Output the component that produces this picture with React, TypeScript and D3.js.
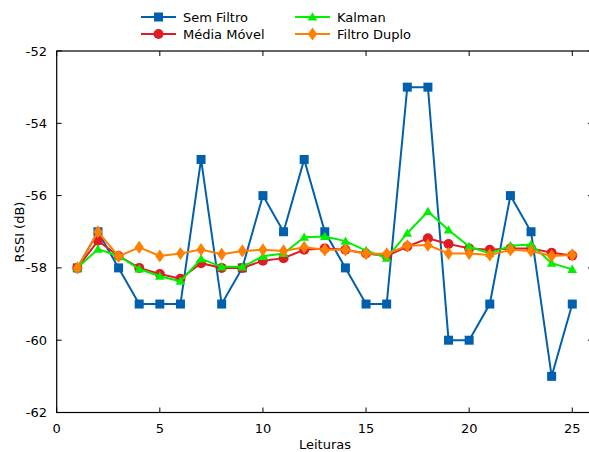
import React from "react";
import * as d3 from "d3";

const leituras = d3.range(1, 26);
const semFiltro = [-58, -57, -58, -59, -59, -59, -55, -59, -58, -56, -57, -55, -57, -58, -59, -59, -53, -53, -60, -60, -59, -56, -57, -61, -59];
const mediaMovel = [-58, -57.25, -57.67, -58, -58.17, -58.3, -57.87, -58, -58, -57.8, -57.73, -57.5, -57.46, -57.5, -57.6, -57.67, -57.41, -57.18, -57.34, -57.46, -57.5, -57.46, -57.46, -57.58, -57.66];
const kalman = [-58, -57.48, -57.67, -58.03, -58.23, -58.37, -57.75, -57.97, -57.97, -57.68, -57.6, -57.15, -57.13, -57.26, -57.52, -57.73, -57.04, -56.44, -56.95, -57.41, -57.6, -57.39, -57.35, -57.87, -58.04];
const filtroDuplo = [-58, -57.0, -57.68, -57.43, -57.67, -57.6, -57.49, -57.62, -57.53, -57.5, -57.53, -57.43, -57.5, -57.5, -57.61, -57.61, -57.39, -57.37, -57.6, -57.6, -57.64, -57.5, -57.53, -57.67, -57.64];
const xTicks = [0, 5, 10, 15, 20, 25];
const yTicks = [-62, -60, -58, -56, -54, -52];

const series = [
  { name: "Sem Filtro", values: semFiltro, color: "#0060ad", marker: "square" },
  { name: "Média Móvel", values: mediaMovel, color: "#e01b24", marker: "circle" },
  { name: "Kalman", values: kalman, color: "#00f000", marker: "triangle" },
  { name: "Filtro Duplo", values: filtroDuplo, color: "#ff8000", marker: "diamond" },
];

const X0 = 56.7, X1 = 592.9, Y0 = 51, Y1 = 412.5;
const FONT = "DejaVu Sans, sans-serif";

function Marker({ type, x, y, color }: { type: string; x: number; y: number; color: string }) {
  if (type === "square") return <rect x={x - 4.5} y={y - 4.5} width={9} height={9} fill={color} />;
  if (type === "circle") return <circle cx={x} cy={y} r={5} fill={color} />;
  if (type === "triangle") {
    const p = d3.symbol(d3.symbolTriangle, 40)();
    return <path d={p || ""} transform={`translate(${x},${y + 0.8})`} fill={color} />;
  }
  const d = d3.symbol(d3.symbolDiamond, 55)();
  return <path d={d || ""} transform={`translate(${x},${y}) scale(1.15,0.95)`} fill={color} />;
}

export default function App() {
  const x = d3.scaleLinear().domain([0, 26]).range([X0, X1]);
  const y = d3.scaleLinear().domain([-62, -52]).range([Y1, Y0]);
  const line = d3.line<number>().x((_, i) => x(leituras[i])).y((v) => y(v));
  const legendPos = [
    { lx: 141, ly: 17 },
    { lx: 141, ly: 34 },
    { lx: 295, ly: 17 },
    { lx: 295, ly: 34 },
  ];
  return (
    <svg width={589} height={452} style={{ position: "absolute", left: 0, top: 0, background: "#fff" }}>
      <defs>
        <clipPath id="plot">
          <rect x={X0} y={Y0 - 10} width={X1 - X0} height={Y1 - Y0 + 20} />
        </clipPath>
      </defs>
      <rect x={X0} y={Y0} width={X1 - X0} height={Y1 - Y0} fill="none" stroke="#000" strokeWidth={1.2} />
      {xTicks.map((t) => (
        <g key={"x" + t}>
          <line x1={x(t)} x2={x(t)} y1={Y1} y2={Y1 - 5} stroke="#000" />
          <line x1={x(t)} x2={x(t)} y1={Y0} y2={Y0 + 5} stroke="#000" />
          <text x={x(t)} y={433} textAnchor="middle" fontFamily={FONT} fontSize={13}>{t}</text>
        </g>
      ))}
      {yTicks.map((t) => (
        <g key={"y" + t}>
          <line x1={X0} x2={X0 + 5} y1={y(t)} y2={y(t)} stroke="#000" />
          <line x1={X1} x2={X1 - 5} y1={y(t)} y2={y(t)} stroke="#000" />
          <text x={47} y={y(t) + 4.5} textAnchor="end" fontFamily={FONT} fontSize={13}>{t}</text>
        </g>
      ))}
      <text x={325} y={449} textAnchor="middle" fontFamily={FONT} fontSize={13}>Leituras</text>
      <text transform={`translate(24,232) rotate(-90)`} textAnchor="middle" fontFamily={FONT} fontSize={13}>RSSI (dB)</text>
      <g clipPath="url(#plot)">
        {series.map((s) => (
          <g key={s.name}>
            <path d={line(s.values) || ""} fill="none" stroke={s.color} strokeWidth={2} />
            {s.values.map((v, i) => (
              <Marker key={i} type={s.marker} x={x(leituras[i])} y={y(v)} color={s.color} />
            ))}
          </g>
        ))}
      </g>
      {series.map((s, i) => {
        const { lx, ly } = legendPos[i];
        return (
          <g key={"l" + s.name}>
            <line x1={lx} x2={lx + 35} y1={ly} y2={ly} stroke={s.color} strokeWidth={2} />
            <Marker type={s.marker} x={lx + 17.5} y={ly} color={s.color} />
            <text x={lx + 42} y={ly + 4.5} fontFamily={FONT} fontSize={13}>{s.name}</text>
          </g>
        );
      })}
    </svg>
  );
}
